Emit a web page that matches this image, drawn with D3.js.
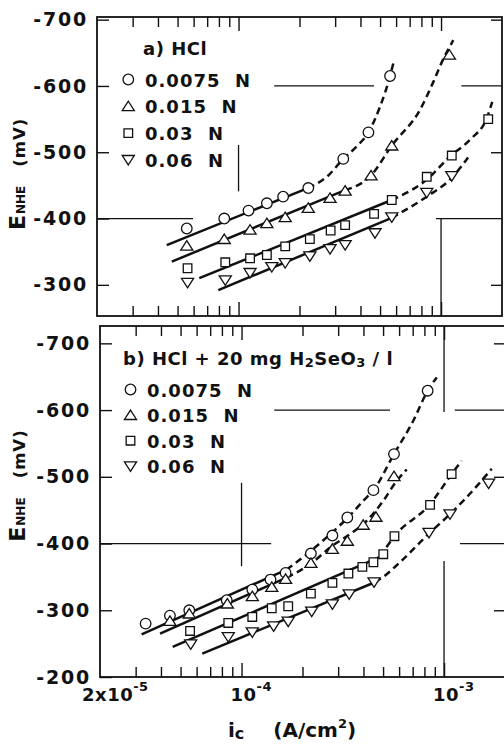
<!DOCTYPE html>
<html><head><meta charset="utf-8">
<script src="https://cdn.jsdelivr.net/npm/d3@7"></script>
<style>
body{margin:0;background:#fff}
svg{display:block}
text{font-family:"DejaVu Sans",sans-serif;font-weight:bold;fill:#111}
</style></head>
<body><svg id="c" width="504" height="745"></svg>
<script>
// ---------- DATA ----------
const seriesLabels = ["0.0075  N", "0.015  N", "0.03  N", "0.06  N"];
const seriesSymbols = ["circle", "triangle", "square", "triangleDown"];

// panel a) HCl : measured points (ic in A/cm2, E in mV)
const aCircleI = [5.55e-5, 8.5e-5, 1.12e-4, 1.38e-4, 1.66e-4, 2.21e-4, 3.29e-4, 4.38e-4, 5.6e-4];
const aCircleE = [-385, -400, -412, -423, -433, -446, -490, -530, -615];
const aTriI = [5.55e-5, 8.5e-5, 1.14e-4, 1.38e-4, 1.70e-4, 2.21e-4, 2.83e-4, 3.36e-4, 4.51e-4, 5.71e-4, 1.10e-3];
const aTriE = [-359, -369, -383, -393, -402, -416, -431, -442, -465, -510, -647];
const aSqI = [5.6e-5, 8.6e-5, 1.14e-4, 1.38e-4, 1.70e-4, 2.25e-4, 2.85e-4, 3.36e-4, 4.67e-4, 5.71e-4, 8.5e-4, 1.13e-3, 1.71e-3];
const aSqE = [-325, -334, -340, -345, -358, -369, -382, -390, -407, -428, -463, -495, -550];
const aDownI = [5.6e-5, 8.6e-5, 1.14e-4, 1.46e-4, 1.70e-4, 2.25e-4, 2.83e-4, 3.36e-4, 4.72e-4, 5.71e-4, 8.5e-4, 1.13e-3];
const aDownE = [-303, -307, -318, -327, -333, -343, -354, -360, -378, -402, -439, -464];

// panel a) fitted lines: solid Tafel segments and dashed curves
const aSolid = [
  [[4.42e-5, -360], [2.2e-4, -446]],
  [[4.68e-5, -335], [3.36e-4, -443]],
  [[6.4e-5, -310], [5.71e-4, -428]],
  [[7.95e-5, -292], [5.71e-4, -401]]
];
const aDashed = [
  [[2.2e-4, -446], [2.73e-4, -463], [3.29e-4, -490], [3.84e-4, -509], [4.38e-4, -530], [5.0e-4, -569], [5.6e-4, -615], [5.81e-4, -634]],
  [[3.36e-4, -443], [4.51e-4, -465], [5.71e-4, -510], [7.87e-4, -564], [9.13e-4, -605], [1.02e-3, -639], [1.15e-3, -669]],
  [[5.71e-4, -428], [8.67e-4, -461], [1.10e-3, -493], [1.39e-3, -519], [1.69e-3, -553], [1.79e-3, -576]],
  [[5.71e-4, -401], [8.5e-4, -433], [1.10e-3, -458], [1.36e-3, -492]]
];

// panel b) HCl + 20 mg H2SeO3 / l : measured points
const bCircleI = [3.36e-5, 4.43e-5, 5.52e-5, 8.45e-5, 1.13e-4, 1.39e-4, 1.65e-4, 2.2e-4, 2.81e-4, 3.33e-4, 4.48e-4, 5.66e-4, 8.3e-4];
const bCircleE = [-280, -292, -300, -315, -331, -346, -356, -385, -412, -439, -480, -534, -629];
const bTriI = [4.43e-5, 5.52e-5, 8.51e-5, 1.13e-4, 1.41e-4, 1.65e-4, 2.2e-4, 2.81e-4, 3.33e-4, 3.99e-4, 4.61e-4, 5.66e-4];
const bTriE = [-284, -295, -310, -321, -335, -347, -371, -392, -404, -428, -440, -501];
const bSqI = [5.57e-5, 8.6e-5, 1.13e-4, 1.41e-4, 1.70e-4, 2.2e-4, 2.81e-4, 3.37e-4, 3.95e-4, 4.48e-4, 5.01e-4, 5.69e-4, 8.53e-4, 1.09e-3];
const bSqE = [-269, -281, -290, -303, -306, -325, -341, -355, -365, -372, -384, -411, -458, -504];
const bDownI = [5.61e-5, 8.6e-5, 1.13e-4, 1.44e-4, 1.70e-4, 2.22e-4, 2.81e-4, 3.40e-4, 4.51e-4, 8.43e-4, 1.07e-3, 1.66e-3];
const bDownE = [-249, -260, -267, -276, -283, -298, -309, -324, -342, -416, -444, -490];

const bSolid = [
  [[3.21e-5, -264], [1.67e-4, -361]],
  [[3.96e-5, -265], [1.67e-4, -349]],
  [[4.57e-5, -245], [4.83e-4, -380]],
  [[6.4e-5, -235], [4.56e-4, -342]]
];
const bDashed = [
  [[1.67e-4, -361], [2.10e-4, -384], [2.74e-4, -414], [3.43e-4, -442], [3.99e-4, -464], [4.48e-4, -480], [5.66e-4, -534], [7.05e-4, -584], [8.3e-4, -629], [9.2e-4, -649]],
  [[1.67e-4, -349], [2.18e-4, -369], [2.79e-4, -396], [3.43e-4, -414], [4.15e-4, -434], [5.01e-4, -464], [5.84e-4, -494], [6.54e-4, -511]],
  [[4.83e-4, -380], [5.69e-4, -411], [8.53e-4, -459], [1.09e-3, -504], [1.22e-3, -524]],
  [[4.56e-4, -342], [5.01e-4, -350], [6.06e-4, -372], [8.36e-4, -414], [1.07e-3, -444], [1.29e-3, -469], [1.72e-3, -512]]
];

// axes
const xDomain = [2e-5, 2e-3];
const aYDomain = [-253, -704];
const bYDomain = [-200, -726];
const aYTicks = [-700, -600, -500, -400, -300];
const bYTicks = [-700, -600, -500, -400, -300, -200];
const xTickBase = ["2x10", "10", "10"];
const xTickExp = ["-5", "-4", "-3"];
const xTickVals = [2e-5, 1e-4, 1e-3];

// partial guide lines of the original drawing (data units)
const aHGuides = [[-600, 1.5e-4, 4.67e-4], [-600, 1.26e-3, 2e-3], [-400, 2e-5, 5.96e-5], [-400, 9.44e-4, 2e-3]];
const aVGuides = [[1e-4, -441, -511], [1e-3, -253, -400]];
const bHGuides = [[-600, 1.45e-4, 5.41e-4], [-600, 1.13e-3, 2e-3], [-400, 2e-5, 1.40e-4], [-400, 1.20e-3, 2e-3]];
const bVGuides = [[1e-4, -366, -491], [1e-3, -597, -726], [1e-3, -200, -374]];
const aRightTicks = [-700, -500, -300];
const bRightTicks = [-700, -500, -300];

// ---------- DRAWING ----------
const svg = d3.select("#c");
const symTri = {draw(ctx, size){const s=Math.sqrt(size);ctx.moveTo(0,-0.46*s);ctx.lineTo(0.55*s,0.4*s);ctx.lineTo(-0.55*s,0.4*s);ctx.closePath();}};
const symTriDown = {draw(ctx, size){const s=Math.sqrt(size);ctx.moveTo(0,0.46*s);ctx.lineTo(0.55*s,-0.4*s);ctx.lineTo(-0.55*s,-0.4*s);ctx.closePath();}};
const symDefs = {
  circle: d3.symbol(d3.symbolCircle, 88),
  triangle: d3.symbol(symTri, 121),
  square: d3.symbol(d3.symbolSquare, 74),
  triangleDown: d3.symbol(symTriDown, 121)
};

function panel(cfg){
  const g = svg.append("g");
  const x = d3.scaleLog().domain(xDomain).range([cfg.x0, cfg.x1]);
  const y = d3.scaleLinear().domain(cfg.yDomain).range([cfg.y1, cfg.y0]);

  // guides
  g.selectAll(".hg").data(cfg.hGuides).join("line")
    .attr("x1", d => x(d[1])).attr("x2", d => x(d[2]))
    .attr("y1", d => y(d[0])).attr("y2", d => y(d[0]))
    .attr("stroke", "#111").attr("stroke-width", 1.3);
  g.selectAll(".vg").data(cfg.vGuides).join("line")
    .attr("x1", d => x(d[0])).attr("x2", d => x(d[0]))
    .attr("y1", d => y(d[1])).attr("y2", d => y(d[2]))
    .attr("stroke", "#111").attr("stroke-width", 1.3);

  // x ticks (inward, top & bottom)
  const minor = x.ticks().filter(v => v > xDomain[0]*1.01 && v < xDomain[1]*0.99);
  const isDecade = v => Math.abs(Math.log10(v) - Math.round(Math.log10(v))) < 1e-6;
  const bAx = d3.axisBottom(x).tickValues(minor).tickSizeOuter(0).tickFormat("").tickSize(-10);
  const tAx = d3.axisTop(x).tickValues(minor).tickSizeOuter(0).tickFormat("").tickSize(-10);
  const gb = g.append("g").attr("transform", `translate(0,${cfg.y1})`).call(bAx);
  const gt = g.append("g").attr("transform", `translate(0,${cfg.y0})`).call(tAx);
  [gb, gt].forEach(a => {
    a.select(".domain").remove();
    a.selectAll(".tick line").attr("stroke", "#111").attr("stroke-width", 1.4)
      .attr("y2", function(d){ const v = +d3.select(this).attr("y2"); return isDecade(d) ? v*1.4 : v; });
  });

  // y ticks left (inward) with labels
  const lAx = d3.axisLeft(y).tickValues(cfg.yTicks).tickSize(-12).tickSizeOuter(0).tickPadding(9).tickFormat(d => String(d));
  const gl = g.append("g").attr("transform", `translate(${cfg.x0},0)`).call(lAx);
  gl.select(".domain").remove();
  gl.selectAll(".tick line").attr("stroke", "#111").attr("stroke-width", 1.4);
  gl.selectAll(".tick text").attr("font-size", 19).attr("letter-spacing", 1.8).attr("fill", "#111")
    .style("font-family", '"DejaVu Sans",sans-serif').style("font-weight", "bold");

  // right ticks
  const rAx = d3.axisRight(y).tickValues(cfg.rightTicks).tickSize(-11).tickSizeOuter(0).tickFormat("");
  const gr = g.append("g").attr("transform", `translate(${cfg.x1},0)`).call(rAx);
  gr.select(".domain").remove();
  gr.selectAll(".tick line").attr("stroke", "#111").attr("stroke-width", 1.4);

  // frame
  g.append("rect").attr("x", cfg.x0).attr("y", cfg.y0)
    .attr("width", cfg.x1 - cfg.x0).attr("height", cfg.y1 - cfg.y0)
    .attr("fill", "none").attr("stroke", "#111").attr("stroke-width", 1.8);

  const line = d3.line().x(d => x(d[0])).y(d => y(d[1]));
  const curve = d3.line().x(d => x(d[0])).y(d => y(d[1])).curve(d3.curveMonotoneX);
  g.selectAll(".sol").data(cfg.solid).join("path").attr("d", line)
    .attr("fill", "none").attr("stroke", "#111").attr("stroke-width", 2.5);
  g.selectAll(".das").data(cfg.dashed).join("path").attr("d", curve)
    .attr("fill", "none").attr("stroke", "#111").attr("stroke-width", 2.5)
    .attr("stroke-dasharray", "7,4.5");

  // markers
  cfg.series.forEach((s, i) => {
    const pts = s.I.map((v, k) => [v, s.E[k]]);
    g.append("g").selectAll("path").data(pts).join("path")
      .attr("d", symDefs[seriesSymbols[i]])
      .attr("transform", d => `translate(${x(d[0])},${y(d[1])})`)
      .attr("fill", "#fff").attr("stroke", "#111").attr("stroke-width", 1.3);
  });

  // legend
  const lg = g.append("g");
  const title = lg.append("text").attr("x", cfg.legX).attr("y", cfg.legTitleY).attr("font-size", 18).attr("letter-spacing", 0.5);
  cfg.title(title);
  seriesLabels.forEach((lab, i) => {
    const by = cfg.legY0 + i * cfg.legDy;
    lg.append("path").attr("d", symDefs[seriesSymbols[i]]())
      .attr("transform", `translate(${cfg.legSymX},${by - 7})`)
      .attr("fill", "#fff").attr("stroke", "#111").attr("stroke-width", 1.3);
    lg.append("text").attr("x", cfg.legTextX).attr("y", by).attr("font-size", 18)
      .attr("letter-spacing", 1).style("white-space", "pre").text(lab);
  });

  // y title
  const yt = g.append("text").attr("transform", `translate(24.5,${cfg.yTitleStart}) rotate(-90)`);
  yt.append("tspan").attr("font-size", 22).text("E");
  yt.append("tspan").attr("font-size", 12).attr("dx", 1).text("NHE");
  yt.append("tspan").attr("font-size", 16.5).attr("dx", 19).attr("letter-spacing", 1).text("(mV)");

  return x;
}

panel({
  x0: 97, x1: 502, y0: 17, y1: 316, yDomain: aYDomain, yTicks: aYTicks, rightTicks: aRightTicks,
  hGuides: aHGuides, vGuides: aVGuides, solid: aSolid, dashed: aDashed,
  series: [{I: aCircleI, E: aCircleE}, {I: aTriI, E: aTriE}, {I: aSqI, E: aSqE}, {I: aDownI, E: aDownE}],
  legX: 143, legTitleY: 55, legSymX: 128.3, legTextX: 145, legY0: 86.5, legDy: 26.8, yTitleStart: 230,
  title: t => t.text("a) HCl")
});

const xb = panel({
  x0: 100, x1: 505, y0: 326, y1: 677, yDomain: bYDomain, yTicks: bYTicks, rightTicks: bRightTicks,
  hGuides: bHGuides, vGuides: bVGuides, solid: bSolid, dashed: bDashed,
  series: [{I: bCircleI, E: bCircleE}, {I: bTriI, E: bTriE}, {I: bSqI, E: bSqE}, {I: bDownI, E: bDownE}],
  legX: 123, legTitleY: 365, legSymX: 130.5, legTextX: 147, legY0: 396.5, legDy: 25.6, yTitleStart: 541.7,
  title: t => {
    t.append("tspan").text("b) HCl + 20 mg H");
    t.append("tspan").attr("font-size", 13).attr("dy", 2).text("2");
    t.append("tspan").attr("dy", -2).text("SeO");
    t.append("tspan").attr("font-size", 13).attr("dy", 2).text("3");
    t.append("tspan").attr("dy", -2).text(" / l");
  }
});

// x tick labels
xTickVals.forEach((v, i) => {
  const t = svg.append("text").attr("y", 701).attr("font-size", 18).attr("letter-spacing", 0.5);
  t.append("tspan").text(xTickBase[i]);
  t.append("tspan").attr("font-size", 13).attr("dy", -10).attr("dx", 0).text(xTickExp[i]);
  t.attr("x", i === 0 ? 82 : xb(v) - 11);
});

// x title
const xt = svg.append("text").attr("x", 228).attr("y", 737).attr("font-size", 20);
xt.append("tspan").text("i");
xt.append("tspan").attr("font-size", 16).attr("dy", 2).text("c");
xt.append("tspan").attr("dy", -2).attr("dx", 29).text("(A/cm");
xt.append("tspan").attr("font-size", 13).attr("dy", -9).text("2");
xt.append("tspan").attr("dy", 9).text(")");
</script></body></html>
